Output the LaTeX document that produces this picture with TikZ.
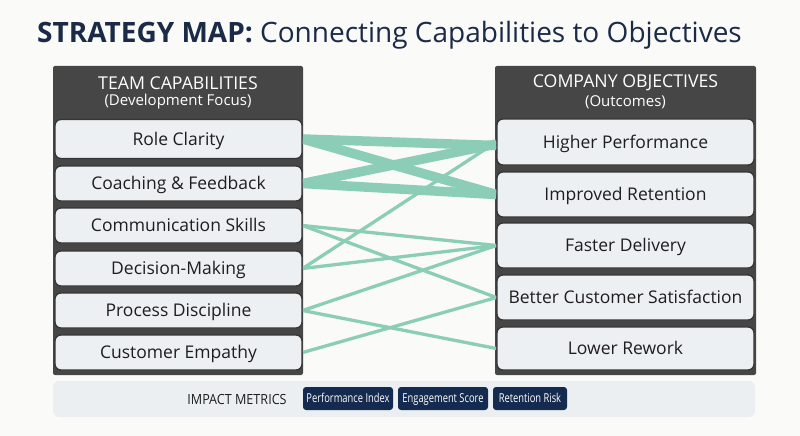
\documentclass[tikz,border=0pt]{standalone}
\usepackage{fontspec}
\setmainfont{Open Sans}
\newfontfamily\condfont[FakeStretch=0.76]{Open Sans}
\newfontfamily\semicond[FakeStretch=0.9]{Open Sans}
\usetikzlibrary{backgrounds}
\definecolor{bgc}{HTML}{FAFAF9}
\definecolor{navy}{HTML}{1B2A47}
\definecolor{panelc}{HTML}{464646}
\definecolor{boxfill}{HTML}{EDF0F3}
\definecolor{boxline}{HTML}{363636}
\definecolor{linkc}{HTML}{8CCDB8}
\definecolor{barc}{HTML}{ECEFF2}
\definecolor{badgec}{HTML}{142A4E}
\definecolor{textc}{HTML}{1E1E1E}
\tikzset{
  panel/.style={fill=panelc, rounded corners=2pt},
  lbox/.style={draw=boxline, line width=1.3pt, fill=boxfill, rounded corners=6pt,
    minimum width=247pt, inner sep=0pt, text=textc, text height=12.5pt, text depth=0pt,
    font=\fontsize{17.5}{19}\selectfont},
  rbox/.style={lbox, minimum width=257pt},
  hdr/.style={text=white, align=center, font=\fontsize{17.7}{19}\selectfont},
  thick link/.style={draw=linkc, line width=9.5pt},
  thin link/.style={draw=linkc, line width=3.3pt},
  badge/.style={fill=badgec, rounded corners=3pt, text=white, inner sep=0pt,
    minimum height=23pt, text height=8.8pt, text depth=0pt,
    font=\condfont\fontsize{12.3}{14}\selectfont},
}
\begin{document}
\begin{tikzpicture}[x=1pt,y=-1pt]
\useasboundingbox (0,0) rectangle (800,436);
% title
\node[anchor=base west, inner sep=0pt, text=navy, font=\fontsize{28}{32}\selectfont] (title) at (37,43)
  {\textbf{STRATEGY MAP:} Connecting Capabilities to Objectives};
\node[hdr] (lh1) at (178,83) {TEAM CAPABILITIES};
\node[hdr, font=\fontsize{15}{16}\selectfont] (lh2) at (178,102) {(Development Focus)};
\node[hdr] (rh1) at (625.5,83) {COMPANY OBJECTIVES};
\node[hdr, font=\fontsize{15}{16}\selectfont] (rh2) at (625.5,102) {(Outcomes)};
% left boxes
\node[lbox, minimum height=39pt] (rc) at (178.5,139) {Role Clarity};
\node[lbox, minimum height=35pt] (cf) at (178.5,183.5) {Coaching \& Feedback};
\node[lbox, minimum height=35pt] (cs) at (178.5,225.5) {Communication Skills};
\node[lbox, minimum height=35pt] (dm) at (178.5,268.5) {Decision-Making};
\node[lbox, minimum height=35pt] (pd) at (178.5,310.5) {Process Discipline};
\node[lbox, minimum height=35pt] (ce) at (178.5,352.5) {Customer Empathy};
% right boxes
\node[rbox, minimum height=46pt] (hp) at (625.5,142) {Higher Performance};
\node[rbox, minimum height=45pt] (ir) at (625.5,194.5) {Improved Retention};
\node[rbox, minimum height=45pt] (fd) at (625.5,245.5) {Faster Delivery};
\node[rbox, minimum height=45pt] (bcs) at (625.5,297.5) {Better Customer Satisfaction};
\node[rbox, minimum height=43pt] (lr) at (625.5,348.5) {Lower Rework};
\begin{scope}[on background layer]
\fill[bgc] (0,0) rectangle (800,436);
\fill[panel] (53,66) rectangle (303,375);
\fill[panel] (495,66) rectangle (756,375);
% links
\draw[thick link] (rc.east) -- ([yshift=-3.5pt]hp.west);
\draw[thick link] (rc.east) -- (ir.west);
\draw[thick link] (cf.east) -- ([yshift=-2pt]hp.west);
\draw[thick link] (cf.east) -- (ir.west);
\draw[thin link] (dm.east) -- (hp.west);
\draw[thin link] (cs.east) -- (fd.west);
\draw[thin link] (cs.east) -- (bcs.west);
\draw[thin link] (dm.east) -- (fd.west);
\draw[thin link] (pd.east) -- (fd.west);
\draw[thin link] (pd.east) -- (lr.west);
\draw[thin link] (ce.east) -- (bcs.west);
\end{scope}
% bottom bar
\fill[barc, rounded corners=6pt] (53,381) rectangle (755,417);
\node[text=textc, font=\semicond\fontsize{14}{16}\selectfont] (im) at (237,399) {IMPACT METRICS};
\node[badge, minimum width=90pt] (b1) at (348,398.5) {Performance Index};
\node[badge, minimum width=90pt] (b2) at (443,398.5) {Engagement Score};
\node[badge, minimum width=74pt] (b3) at (530,398.5) {Retention Risk};
\end{tikzpicture}
\end{document}
